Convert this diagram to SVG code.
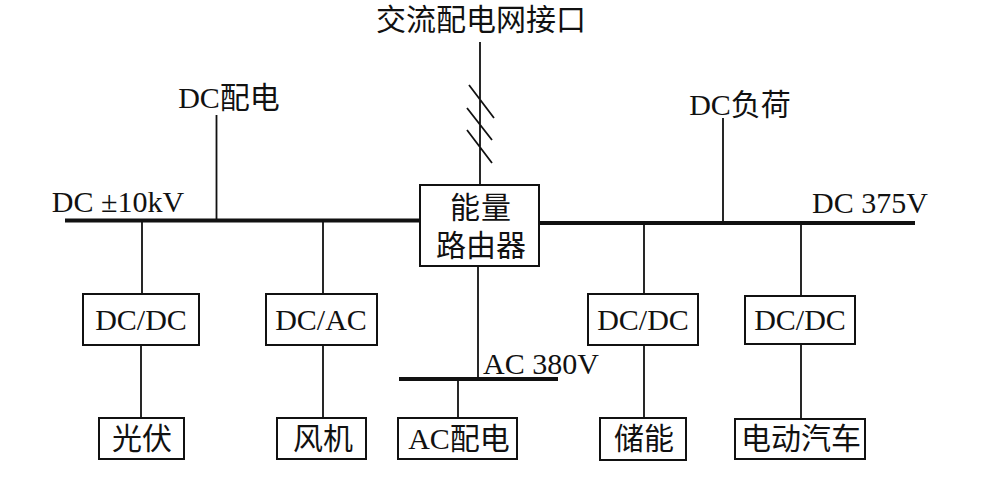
<svg xmlns="http://www.w3.org/2000/svg" width="988" height="478" viewBox="0 0 988 478">
<style>
text{font-family:"Liberation Serif","Noto Sans CJK SC",serif;font-size:30px;fill:#111;text-anchor:middle}
.l{fill:none;stroke:#111;stroke-width:1.8}
.b{fill:none;stroke:#111;stroke-width:4.2}
.n{fill:#fff;stroke:#111;stroke-width:2}
</style>
<rect width="988" height="478" fill="#fff"/>
<g id="connectors">
<path class="l" d="M480 42V185M469 85L494 118M467 108L492 140M467 130L492 163M216.500 115V220M723 118V223M142 220V294M323 220V294M644 223V294M801 223V296M141 345V418M323 345V418M644 345V418M801 344V418M478 266V379M458 379V418"/>
<path class="b" d="M65 220.500H420M539 223H915M399 379H558"/>
</g>
<g id="label-ac-grid"><text x="481" y="30">交流配电网接口</text></g>
<g id="label-dc-dist"><text x="229" y="108">DC配电</text></g>
<g id="label-dc-load"><text x="740" y="115">DC负荷</text></g>
<g id="label-dc10"><text x="118" y="212">DC ±10kV</text></g>
<g id="label-dc375"><text x="870" y="213">DC 375V</text></g>
<g id="label-ac380"><text x="541" y="374">AC 380V</text></g>
<g id="router"><rect class="n" x="420" y="185" width="119" height="81"/><text x="481" y="218" letter-spacing="1">能量</text><text x="481" y="256">路由器</text></g>
<g id="dcdc1"><rect class="n" x="83" y="294" width="116" height="51"/><text x="141" y="330">DC/DC</text></g>
<g id="dcac"><rect class="n" x="266" y="294" width="111" height="51"/><text x="321" y="330">DC/AC</text></g>
<g id="dcdc2"><rect class="n" x="588" y="294" width="110" height="51"/><text x="643" y="330">DC/DC</text></g>
<g id="dcdc3"><rect class="n" x="745" y="296" width="110" height="48"/><text x="800" y="330">DC/DC</text></g>
<g id="pv"><rect class="n" x="99" y="418" width="85" height="41"/><text x="142" y="449">光伏</text></g>
<g id="wind"><rect class="n" x="277" y="418" width="89" height="41"/><text x="323" y="449">风机</text></g>
<g id="acdist"><rect class="n" x="398" y="418" width="119" height="41"/><text x="459" y="449">AC配电</text></g>
<g id="storage"><rect class="n" x="600" y="418" width="86" height="42"/><text x="644" y="449">储能</text></g>
<g id="ev"><rect class="n" x="735" y="419" width="130" height="40"/><text x="801" y="449">电动汽车</text></g>
</svg>
